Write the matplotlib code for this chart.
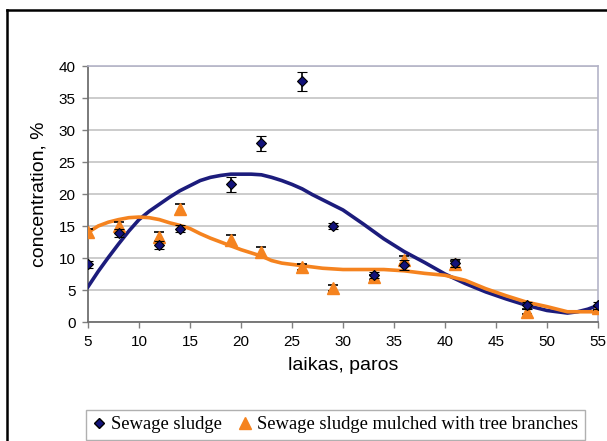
import matplotlib
matplotlib.use("Agg")
import matplotlib.pyplot as plt
from matplotlib.lines import Line2D

# measurement days
days = [5, 8, 12, 14, 19, 22, 26, 29, 33, 36, 41, 48, 55]

# sewage sludge
sludge = [9.0, 13.9, 12.0, 14.6, 21.5, 27.9, 37.6, 15.0, 7.3, 8.9, 9.2, 2.6, 2.6]
sludge_err = [0.5, 0.6, 0.6, 0.5, 1.2, 1.2, 1.5, 0.5, 0.5, 0.8, 0.6, 0.5, 0.5]

# sewage sludge mulched with tree branches
mulched = [14.1, 15.0, 13.3, 17.6, 12.8, 10.9, 8.6, 5.3, 7.0, 9.7, 9.0, 1.6, 2.2]
mulched_err = [0.5, 0.7, 0.7, 0.8, 0.8, 0.8, 0.4, 0.5, 0.4, 0.6, 0.6, 0.4, 0.3]

# trend lines
trend_x = [5, 6, 7, 8, 9, 10, 11, 12, 13, 14, 15, 16, 17, 18, 19, 20, 21, 22,
           23, 24, 25, 26, 27, 28, 29, 30, 32, 34, 36, 38, 40, 42, 44, 46, 48,
           50, 51, 52, 53, 54, 55]
sludge_trend = [5.5, 7.9, 10.1, 12.2, 14.2, 16.0, 17.3, 18.4, 19.5, 20.5,
                21.3, 22.1, 22.6, 22.9, 23.1, 23.1, 23.1, 23.0, 22.6, 22.1,
                21.5, 20.8, 19.9, 19.1, 18.3, 17.5, 15.3, 13.0, 11.0, 9.3,
                7.5, 6.0, 4.7, 3.6, 2.6, 1.8, 1.6, 1.4, 1.6, 2.0, 2.6]
mulched_trend = [14.0, 15.0, 15.6, 16.0, 16.3, 16.4, 16.3, 16.0, 15.5, 15.1,
                 14.6, 13.8, 13.1, 12.5, 11.9, 11.3, 10.8, 10.3, 9.6, 9.2,
                 9.0, 8.8, 8.6, 8.4, 8.3, 8.2, 8.2, 8.2, 8.0, 7.6, 7.3, 6.5,
                 5.2, 4.1, 3.1, 2.4, 2.0, 1.6, 1.6, 1.6, 1.6]

navy = "#1c1c7c"
orange = "#f5831f"

plt.rcParams["font.family"] = ["Liberation Sans", "DejaVu Sans"]

fig = plt.figure(figsize=(6.07, 4.41), dpi=100)
ax = fig.add_axes([88 / 607, 119 / 441, 510 / 607, 256 / 441])

ax.plot(trend_x, sludge_trend, color=navy, lw=2.6, zorder=3,
        solid_joinstyle="round")
ax.plot(trend_x, mulched_trend, color=orange, lw=2.6, zorder=3,
        solid_joinstyle="round")

ax.errorbar(days, sludge, yerr=sludge_err, fmt="D", ms=5.5, mfc="#12127a",
            mec="black", mew=0.8, ecolor="black", elinewidth=1.2,
            capsize=3.5, capthick=1.2, zorder=5)
ax.errorbar(days, mulched, yerr=mulched_err, fmt="^", ms=8, mfc=orange,
            mec=orange, ecolor="black", elinewidth=1.2, capsize=3.5,
            capthick=1.2, zorder=4)

ax.set_xlim(5, 55)
ax.set_ylim(0, 40)
ax.set_xticks(range(5, 56, 5))
ax.set_yticks(range(0, 41, 5))
ax.yaxis.grid(True, color="#c4c4c4", lw=1.2)
ax.set_axisbelow(True)

ax.tick_params(labelsize=11, length=4, width=1, color="#808080", pad=5)
for side in ("top", "right"):
    ax.spines[side].set_color("#b4b4c8")
    ax.spines[side].set_linewidth(1.2)
for side in ("left", "bottom"):
    ax.spines[side].set_color("#707070")
    ax.spines[side].set_linewidth(1.3)

ax.set_xlabel("laikas, paros", fontsize=14, labelpad=6)
ax.set_ylabel("concentration, %", fontsize=14, labelpad=8)

# outer frame on the top and left edges
fig.add_artist(Line2D([7 / 607, 1], [431 / 441, 431 / 441], color="black", lw=1.8))
fig.add_artist(Line2D([7 / 607, 7 / 607], [0, 431 / 441], color="black", lw=1.8))

handles = [
    Line2D([], [], ls="none", marker="D", ms=5, mfc="#12127a", mec="black"),
    Line2D([], [], ls="none", marker="^", ms=8, mfc=orange, mec=orange),
]
leg = fig.legend(handles, ["Sewage sludge", "Sewage sludge mulched with tree branches"],
                 loc="lower left", bbox_to_anchor=(86 / 607, 1 / 441, 514 / 607, 35 / 441),
                 ncol=2, fancybox=False, edgecolor="#b0b0b0", framealpha=1,
                 prop={"family": "Liberation Serif", "size": 13.4},
                 handlelength=0.7, handletextpad=0.3, columnspacing=0.9,
                 borderpad=0.35, borderaxespad=0)
leg.get_frame().set_linewidth(1.0)

fig.savefig("out.png", dpi=100)
